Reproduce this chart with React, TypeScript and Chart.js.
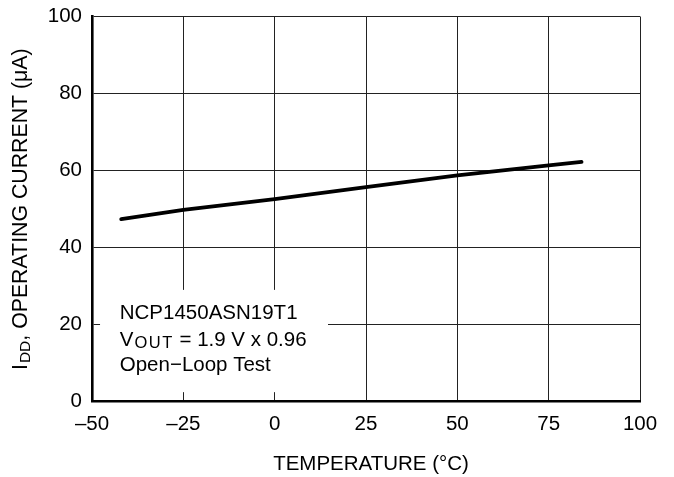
import React, { useEffect, useRef } from 'react';
import { Chart, registerables } from 'chart.js';

Chart.register(...registerables);

// ---- data ----
const temperatures: number[] = [-42, -25, 0, 25, 50, 75, 84];
const currents: number[] = [47.3, 49.7, 52.5, 55.6, 58.7, 61.3, 62.2];

const xTickValues: number[] = [-50, -25, 0, 25, 50, 75, 100];
const xTickLabels: string[] = ['\u201350', '\u201325', '0', '25', '50', '75', '100'];
const yTickValues: number[] = [0, 20, 40, 60, 80, 100];
const yTickLabels: string[] = ['0', '20', '40', '60', '80', '100'];

const xTitle = 'TEMPERATURE (\u00B0C)';
const yTitleMain = 'I';
const yTitleSub = 'DD';
const yTitleRest = ', OPERATING CURRENT (\u03BCA)';

const noteLine1 = 'NCP1450ASN19T1';
const noteLine2Main = 'V';
const noteLine2Sub = 'OUT';
const noteLine2Rest = ' = 1.9 V x 0.96';
const noteLine3 = 'Open\u2212Loop Test';

// annotation placement in data units
const noteBoxX: number[] = [-47.8, 14.6];
const noteBoxY: number[] = [2.3, 28.9];
const noteTextX = -42.4;
const noteBaselines: number[] = [21.3, 14.4, 7.9];

const FONT = "'Liberation Sans', Arial, Helvetica, sans-serif";
const FS = 20.5;
const SUB_FS = 16.5;
const YT_FS = 21.3;
const YT_SUB_FS = 15.5;

const textPlugin = {
  id: 'customText',
  beforeDatasetsDraw(chart: any) {
    const { ctx, chartArea } = chart;
    const x = chart.scales.x;
    const y = chart.scales.y;
    ctx.save();
    // white note box
    const bx0 = x.getPixelForValue(noteBoxX[0]);
    const bx1 = x.getPixelForValue(noteBoxX[1]);
    const by0 = y.getPixelForValue(noteBoxY[1]);
    const by1 = y.getPixelForValue(noteBoxY[0]);
    ctx.fillStyle = '#ffffff';
    ctx.fillRect(bx0, by0, bx1 - bx0, by1 - by0);

    ctx.fillStyle = '#000000';
    ctx.textAlign = 'left';
    ctx.textBaseline = 'alphabetic';
    const tx = x.getPixelForValue(noteTextX);
    ctx.font = `${FS}px ${FONT}`;
    ctx.fillText(noteLine1, tx, y.getPixelForValue(noteBaselines[0]));
    const b2 = y.getPixelForValue(noteBaselines[1]);
    ctx.fillText(noteLine2Main, tx, b2);
    const wV = ctx.measureText(noteLine2Main).width;
    ctx.font = `${SUB_FS}px ${FONT}`;
    (ctx as any).letterSpacing = '1.5px';
    ctx.fillText(noteLine2Sub, tx + wV + 1, b2 + 2.5);
    const wOut = ctx.measureText(noteLine2Sub).width;
    (ctx as any).letterSpacing = '0px';
    ctx.font = `${FS}px ${FONT}`;
    ctx.fillText(noteLine2Rest, tx + wV + 1 + wOut, b2);
    ctx.fillText(noteLine3, tx, y.getPixelForValue(noteBaselines[2]));

    // x title
    ctx.textAlign = 'center';
    ctx.fillText(xTitle, (chartArea.left + chartArea.right) / 2 + 5, chartArea.bottom + 69);

    // y title (rotated, with subscript)
    ctx.font = `${YT_FS}px ${FONT}`;
    const w1 = ctx.measureText(yTitleMain).width;
    ctx.font = `${YT_SUB_FS}px ${FONT}`;
    const w2 = ctx.measureText(yTitleSub).width;
    ctx.translate(chartArea.left - 65, chartArea.bottom - 31);
    ctx.rotate(-Math.PI / 2);
    ctx.textAlign = 'left';
    ctx.font = `${YT_FS}px ${FONT}`;
    ctx.fillText(yTitleMain, 0, 0);
    ctx.font = `${YT_SUB_FS}px ${FONT}`;
    ctx.fillText(yTitleSub, w1 + 1, 3);
    ctx.font = `${YT_FS}px ${FONT}`;
    ctx.fillText(yTitleRest, w1 + 1 + w2, 0);
    ctx.restore();
  },
};

export default function App() {
  const canvasRef = useRef<HTMLCanvasElement | null>(null);

  useEffect(() => {
    document.body.style.margin = '0';
    const canvas = canvasRef.current;
    if (!canvas) return;
    const chart = new Chart(canvas, {
      type: 'line',
      data: {
        datasets: [
          {
            data: temperatures.map((t, i) => ({ x: t, y: currents[i] })),
            borderColor: '#000000',
            borderWidth: 3.8,
            borderCapStyle: 'round',
            borderJoinStyle: 'round',
            pointRadius: 0,
            tension: 0,
            fill: false,
          },
        ],
      },
      options: {
        animation: false,
        responsive: false,
        devicePixelRatio: 1,
        layout: { padding: { top: 16.5, right: 34, bottom: 0, left: 0 } },
        plugins: {
          legend: { display: false },
          tooltip: { enabled: false },
          title: { display: false },
        },
        scales: {
          x: {
            type: 'linear',
            min: -50,
            max: 100,
            afterBuildTicks: (scale: any) => {
              scale.ticks = xTickValues.map((v) => ({ value: v }));
            },
            afterFit: (scale: any) => {
              scale.height = 76;
              scale.paddingLeft = 0;
              scale.paddingRight = 0;
            },
            ticks: {
              color: '#000000',
              font: { family: FONT, size: FS },
              padding: 11,
              maxRotation: 0,
              autoSkip: false,
              callback: (v: any) => {
                const i = xTickValues.indexOf(Number(v));
                return i >= 0 ? xTickLabels[i] : '';
              },
            },
            grid: { color: '#222222', lineWidth: 1, drawTicks: false },
            border: { display: true, color: '#000000', width: 2.6 },
          },
          y: {
            type: 'linear',
            min: 0,
            max: 100,
            afterBuildTicks: (scale: any) => {
              scale.ticks = yTickValues.map((v) => ({ value: v }));
            },
            afterFit: (scale: any) => {
              scale.width = 92;
              scale.paddingTop = 0;
              scale.paddingBottom = 0;
            },
            ticks: {
              color: '#000000',
              font: { family: FONT, size: FS },
              padding: 10,
              autoSkip: false,
              callback: (v: any) => {
                const i = yTickValues.indexOf(Number(v));
                return i >= 0 ? yTickLabels[i] : '';
              },
            },
            grid: { color: '#222222', lineWidth: 1, drawTicks: false },
            border: { display: true, color: '#000000', width: 2.6 },
          },
        },
      },
      plugins: [textPlugin],
    } as any);
    return () => chart.destroy();
  }, []);

  return (
    <div style={{ position: 'fixed', left: 0, top: 0, width: 674, height: 477, background: '#ffffff' }}>
      <canvas ref={canvasRef} width={674} height={477} style={{ width: 674, height: 477, display: 'block' }} />
    </div>
  );
}
